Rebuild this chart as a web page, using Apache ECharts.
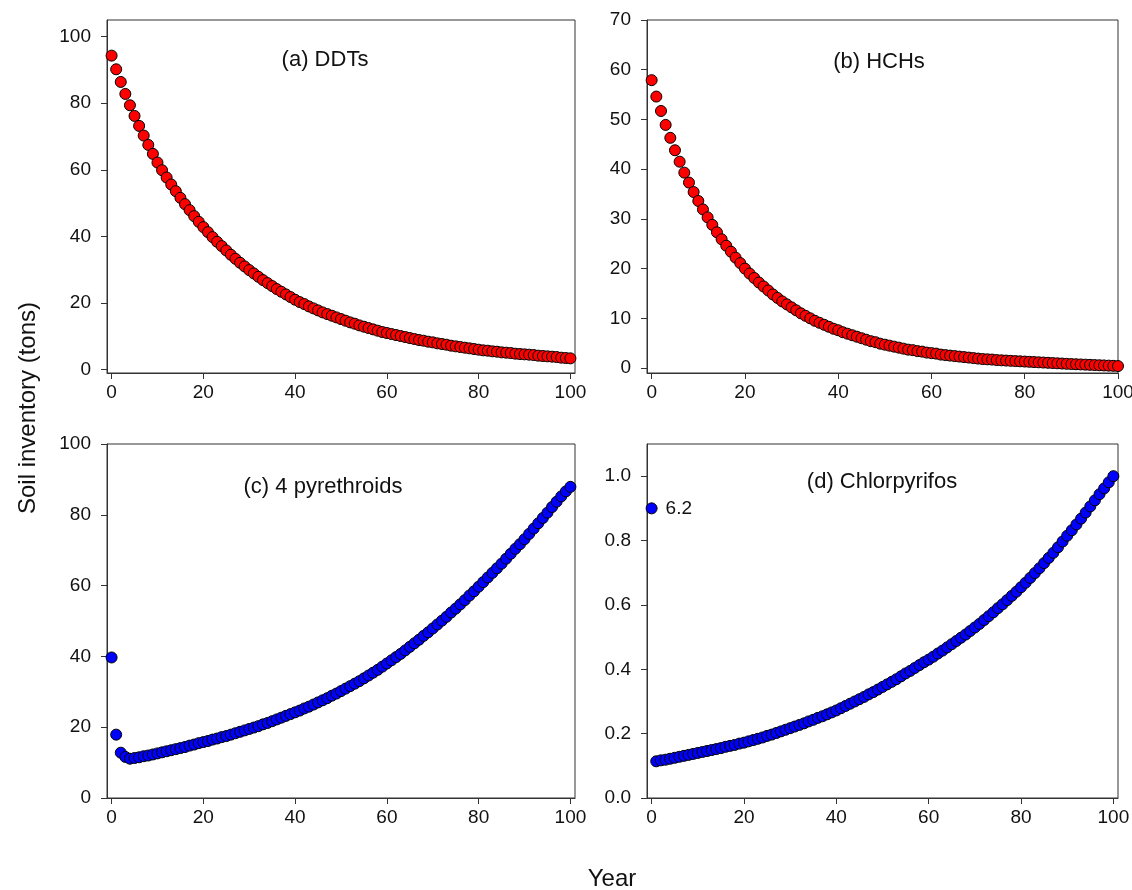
<!DOCTYPE html>
<html>
<head>
<meta charset="utf-8">
<script src="https://cdn.jsdelivr.net/npm/echarts@6/dist/echarts.min.js"></script>
<style>
  html, body { margin: 0; padding: 0; background: #fff; }
  #chart { width: 1132px; height: 890px; }
</style>
</head>
<body>
<div id="chart"></div>
<script>
// ---- Data (index = year 0..100) ----
const panelTitles = ['(a) DDTs', '(b) HCHs', '(c) 4 pyrethroids', '(d) Chlorpyrifos'];
const xTicks = [0, 20, 40, 60, 80, 100];
const yTicksA = [0, 20, 40, 60, 80, 100];
const yTicksB = [0, 10, 20, 30, 40, 50, 60, 70];
const yTicksC = [0, 20, 40, 60, 80, 100];
const yTicksD = [0, 0.2, 0.4, 0.6, 0.8, 1.0];
const xTitle = 'Year';
const yTitle = 'Soil inventory (tons)';
const chlorpyrifosYear0Label = '6.2';

const ddts = [
  94.3, 90.2, 86.4, 82.8, 79.4, 76.2, 73.2, 70.3, 67.5, 64.8, 62.2,
  59.9, 57.7, 55.6, 53.6, 51.6, 49.7, 47.9, 46.1, 44.4, 42.8,
  41.3, 39.8, 38.4, 37.1, 35.8, 34.5, 33.3, 32.1, 31.0, 29.9,
  28.9, 27.9, 26.9, 26.0, 25.1, 24.2, 23.4, 22.6, 21.8, 21.0,
  20.3, 19.7, 19.0, 18.4, 17.8, 17.2, 16.7, 16.2, 15.7, 15.2,
  14.7, 14.2, 13.8, 13.3, 12.9, 12.5, 12.1, 11.7, 11.3, 11.0,
  10.7, 10.4, 10.1, 9.8, 9.5, 9.2, 8.9, 8.7, 8.4, 8.2,
  7.9, 7.7, 7.5, 7.2, 7.0, 6.8, 6.6, 6.4, 6.2, 6.0,
  5.8, 5.7, 5.5, 5.4, 5.2, 5.1, 5.0, 4.8, 4.7, 4.6,
  4.5, 4.4, 4.2, 4.1, 4.0, 3.9, 3.8, 3.6, 3.5, 3.4
];
const hchs = [
  57.9, 54.6, 51.7, 48.9, 46.3, 43.8, 41.5, 39.3, 37.3, 35.4, 33.6,
  31.9, 30.3, 28.8, 27.3, 25.9, 24.6, 23.4, 22.2, 21.1, 20.0,
  19.0, 18.1, 17.2, 16.4, 15.6, 14.8, 14.1, 13.4, 12.8, 12.2,
  11.6, 11.0, 10.5, 10.0, 9.5, 9.1, 8.7, 8.3, 7.9, 7.6,
  7.2, 6.9, 6.6, 6.3, 6.0, 5.7, 5.4, 5.2, 4.9, 4.7,
  4.5, 4.3, 4.1, 3.9, 3.7, 3.6, 3.4, 3.3, 3.1, 3.0,
  2.9, 2.7, 2.6, 2.5, 2.4, 2.3, 2.2, 2.1, 2.0, 1.9,
  1.8, 1.75, 1.7, 1.6, 1.55, 1.5, 1.45, 1.4, 1.35, 1.3,
  1.25, 1.2, 1.15, 1.1, 1.05, 1.0, 0.95, 0.9, 0.85, 0.8,
  0.76, 0.72, 0.68, 0.64, 0.6, 0.56, 0.52, 0.48, 0.44, 0.4
];
const pyrethroids = [
  39.7, 17.9, 12.8, 11.6, 11.1, 11.3, 11.5, 11.8, 12.0, 12.3, 12.6,
  12.9, 13.2, 13.5, 13.8, 14.1, 14.4, 14.8, 15.1, 15.5, 15.8,
  16.1, 16.5, 16.8, 17.2, 17.5, 17.9, 18.3, 18.7, 19.1, 19.5,
  19.9, 20.3, 20.8, 21.2, 21.7, 22.2, 22.7, 23.2, 23.7, 24.2,
  24.7, 25.3, 25.8, 26.4, 27.0, 27.6, 28.2, 28.9, 29.5, 30.2,
  30.9, 31.6, 32.3, 33.0, 33.8, 34.6, 35.4, 36.2, 37.1, 38.0,
  38.9, 39.8, 40.7, 41.7, 42.7, 43.7, 44.7, 45.8, 46.8, 47.9,
  49.0, 50.1, 51.2, 52.4, 53.5, 54.7, 55.9, 57.2, 58.4, 59.7,
  61.0, 62.3, 63.6, 64.9, 66.2, 67.6, 69.0, 70.4, 71.7, 73.1,
  74.6, 76.1, 77.6, 79.1, 80.6, 82.2, 83.7, 85.2, 86.6, 87.9
];
const chlorpyrifos = [
  0.900, 0.114, 0.117, 0.119, 0.122, 0.125, 0.128, 0.131, 0.134, 0.137, 0.140,
  0.143, 0.146, 0.149, 0.152, 0.155, 0.159, 0.162, 0.165, 0.169, 0.172,
  0.176, 0.180, 0.184, 0.188, 0.193, 0.197, 0.202, 0.207, 0.212, 0.217,
  0.222, 0.227, 0.232, 0.238, 0.243, 0.249, 0.254, 0.260, 0.266, 0.272,
  0.279, 0.286, 0.293, 0.300, 0.307, 0.314, 0.322, 0.329, 0.337, 0.345,
  0.353, 0.361, 0.369, 0.378, 0.387, 0.395, 0.404, 0.413, 0.422, 0.430,
  0.439, 0.449, 0.458, 0.468, 0.478, 0.488, 0.498, 0.508, 0.519, 0.530,
  0.541, 0.553, 0.565, 0.577, 0.590, 0.602, 0.615, 0.628, 0.641, 0.655,
  0.669, 0.684, 0.699, 0.714, 0.730, 0.746, 0.762, 0.779, 0.797, 0.815,
  0.832, 0.850, 0.868, 0.887, 0.906, 0.925, 0.944, 0.962, 0.981, 1.000
];

// ---- Chart ----
const FONT = '"Liberation Sans", Arial, Helvetica, sans-serif';
const TXT = '#111';
const AX = '#333';

const grids = [
  { left: 107, top: 20, width: 468, height: 353 },
  { left: 647, top: 20, width: 471, height: 353 },
  { left: 107, top: 444, width: 468, height: 354 },
  { left: 647, top: 444, width: 471, height: 354 }
].map(g => Object.assign({ show: true, borderColor: AX, borderWidth: 1, backgroundColor: 'transparent',
  containLabel: false, outerBoundsMode: 'none' }, g));

const xRanges = [[-1, 101], [-1, 100], [-1, 101], [-1, 101]];
const yRanges = [[-1, 105], [-1, 70], [0, 100], [0, 1.1]];
const yTickSets = [yTicksA, yTicksB, yTicksC, yTicksD];

function xAxisFor(i) {
  return {
    type: 'value', gridIndex: i, min: xRanges[i][0], max: xRanges[i][1],
    axisLine: { show: true, onZero: false, lineStyle: { color: AX, width: 1 } },
    axisTick: { show: true, inside: false, length: 6, customValues: xTicks, lineStyle: { color: AX } },
    axisLabel: { customValues: xTicks, margin: 10, fontSize: 19, color: TXT, fontFamily: FONT },
    splitLine: { show: false }
  };
}
function yAxisFor(i) {
  const ticks = yTickSets[i];
  return {
    type: 'value', gridIndex: i, min: yRanges[i][0], max: yRanges[i][1],
    axisLine: { show: true, onZero: false, lineStyle: { color: AX, width: 1 } },
    axisTick: { show: true, inside: false, length: 6, customValues: ticks, lineStyle: { color: AX } },
    axisLabel: {
      customValues: ticks, margin: 16, fontSize: 19, color: TXT, fontFamily: FONT,
      formatter: i === 3 ? (v => Number(v).toFixed(1)) : (v => String(Math.round(v)))
    },
    splitLine: { show: false }
  };
}

function pairs(arr) { return arr.map((v, yr) => [yr, v]); }

const redStyle = { color: '#ff0000', borderColor: '#000', borderWidth: 1, opacity: 1 };
const blueStyle = { color: '#0000ff', borderColor: '#000', borderWidth: 1, opacity: 1 };

const chlorData = pairs(chlorpyrifos).map((p, idx) => idx === 0
  ? { value: p, label: { show: true, position: 'right', distance: 8, formatter: chlorpyrifosYear0Label,
      fontSize: 19, color: TXT, fontFamily: FONT } }
  : p);

const series = [
  { type: 'scatter', xAxisIndex: 0, yAxisIndex: 0, data: pairs(ddts), symbolSize: 11, itemStyle: redStyle },
  { type: 'scatter', xAxisIndex: 1, yAxisIndex: 1, data: pairs(hchs), symbolSize: 11, itemStyle: redStyle },
  { type: 'scatter', xAxisIndex: 2, yAxisIndex: 2, data: pairs(pyrethroids), symbolSize: 11, itemStyle: blueStyle },
  { type: 'scatter', xAxisIndex: 3, yAxisIndex: 3, data: chlorData, symbolSize: 11, itemStyle: blueStyle }
].map(s => Object.assign({ animation: false, clip: false, emphasis: { disabled: true } }, s));

const titlePos = [[325, 60], [879, 62], [323, 487], [882, 482]];
const graphics = panelTitles.map((t, i) => ({
  type: 'text', x: titlePos[i][0], y: titlePos[i][1],
  style: { text: t, font: '22px ' + FONT, fill: TXT, align: 'center', verticalAlign: 'middle' }
}));
graphics.push({
  type: 'text', x: 612, y: 879,
  style: { text: xTitle, font: '24px ' + FONT, fill: TXT, align: 'center', verticalAlign: 'middle' }
});
graphics.push({
  type: 'text', x: 28, y: 408, rotation: Math.PI / 2,
  style: { text: yTitle, font: '24px ' + FONT, fill: TXT, align: 'center', verticalAlign: 'middle' }
});

const chart = echarts.init(document.getElementById('chart'), null, { renderer: 'canvas' });
chart.setOption({
  animation: false,
  backgroundColor: '#fff',
  grid: grids,
  xAxis: [0, 1, 2, 3].map(xAxisFor),
  yAxis: [0, 1, 2, 3].map(yAxisFor),
  series: series,
  graphic: graphics
});
</script>
</body>
</html>
